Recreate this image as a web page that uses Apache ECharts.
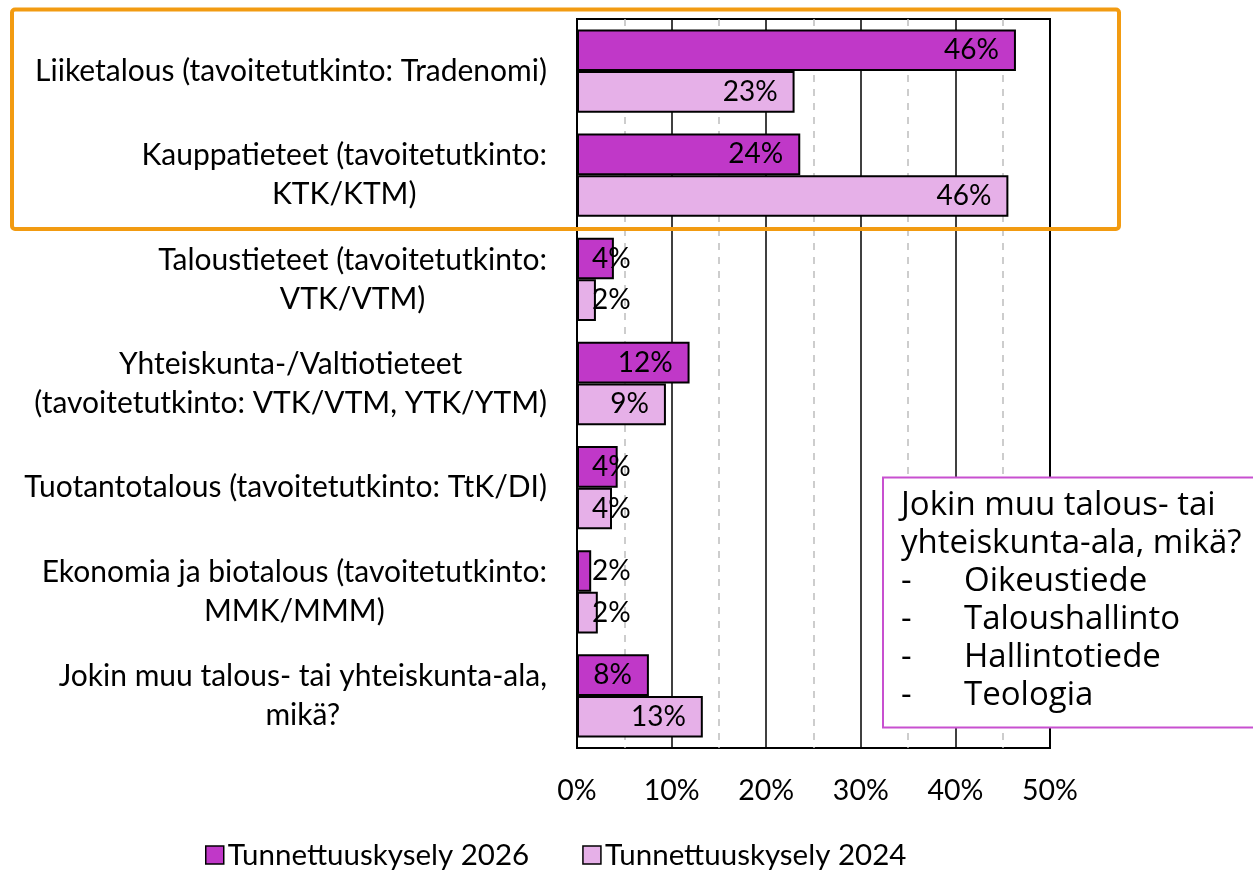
<!DOCTYPE html>
<html>
<head>
<meta charset="utf-8">
<title>Tunnettuuskysely</title>
<script src="https://cdn.jsdelivr.net/npm/echarts@6/dist/echarts.min.js"></script>
<style>
  html, body { margin: 0; padding: 0; background: #fff; }
  #chart { width: 1253px; height: 873px; }
</style>
</head>
<body>
<div id="chart"></div>
<script>
// kategoriat (y-akseli)
const categories = [
  'Liiketalous (tavoitetutkinto: Tradenomi)',
  'Kauppatieteet (tavoitetutkinto:\nKTK/KTM)',
  'Taloustieteet (tavoitetutkinto:\nVTK/VTM)',
  'Yhteiskunta-/Valtiotieteet\n(tavoitetutkinto: VTK/VTM, YTK/YTM)',
  'Tuotantotalous (tavoitetutkinto: TtK/DI)',
  'Ekonomia ja biotalous (tavoitetutkinto:\nMMK/MMM)',
  'Jokin muu talous- tai yhteiskunta-ala,\nmikä?'
];
const seriesNames = ['Tunnettuuskysely 2026', 'Tunnettuuskysely 2024'];
// arvot luettu kuvasta (%)
const values2026 = [46.4, 23.6, 3.9, 11.9, 4.3, 1.5, 7.6];
const values2024 = [23.0, 45.6, 2.0, 9.4, 3.7, 2.2, 13.3];
const xTicks = [0, 10, 20, 30, 40, 50];
// tekstilaatikon rivit
const noteTitle = ['Jokin muu talous- tai', 'yhteiskunta-ala, mikä?'];
const noteItems = ['Oikeustiede', 'Taloushallinto', 'Hallintotiede', 'Teologia'];

const FONT = 'Lato';
const NOTE_FONT = '33px "Open Sans"';
const colors = ['#C038C8', '#E6B0E8'];

// pienet palkit: Excel siirtää tunnisteen palkin alkuun
function barData (vals) {
  return vals.map(v => {
    if (v < 5) {
      return { value: v, label: { position: [15, '50%'], align: 'left', verticalAlign: 'middle' } };
    }
    return { value: v };
  });
}

function makeSeries (name, vals, color) {
  return {
    name: name,
    type: 'bar',
    data: barData(vals),
    barGap: '0%',
    barCategoryGap: '20%',
    itemStyle: { color: color, borderColor: '#000', borderWidth: 2 },
    label: {
      show: true,
      position: 'insideRight',
      distance: 17,
      color: '#000',
      fontFamily: FONT,
      fontSize: 28,
      formatter: p => Math.round(p.value) + '%'
    }
  };
}

const noteText = noteTitle.map(t => '{t|' + t + '}').join('\n') + '\n' +
  noteItems.map(t => '{d|-}{t|' + t + '}').join('\n');

const option = {
  animation: false,
  backgroundColor: '#fff',
  grid: {
    left: 577, top: 19, width: 473, height: 729,
    show: true, borderColor: '#000', borderWidth: 2
  },
  legend: {
    data: seriesNames,
    left: 200, top: 835,
    itemWidth: 18, itemHeight: 18, itemGap: 53,
    icon: 'rect',
    itemStyle: { borderColor: '#000', borderWidth: 1.5 },
    textStyle: { fontFamily: FONT, fontSize: 29.5, color: '#000', padding: [0, 0, 0, -1] }
  },
  xAxis: {
    type: 'value',
    min: xTicks[0], max: xTicks[xTicks.length - 1], interval: 10,
    axisLine: { show: false },
    axisTick: { show: false },
    axisLabel: { formatter: '{value}%', fontFamily: FONT, fontSize: 28.5, color: '#000', margin: 28 },
    splitLine: { show: true, lineStyle: { color: '#000', width: 1.5 } },
    minorTick: { show: false, splitNumber: 2 },
    minorSplitLine: { show: true, lineStyle: { color: '#bdbdbd', width: 1.5, type: [7, 7] } }
  },
  yAxis: {
    type: 'category',
    inverse: true,
    data: categories,
    axisLine: { show: true, lineStyle: { color: '#000', width: 2 } },
    axisTick: { show: false },
    axisLabel: {
      margin: 30,
      formatter: v => v.split('\n').map(l => '{c|' + l + '}').join('\n'),
      rich: {
        c: { align: 'center', fontFamily: FONT, fontSize: 30, lineHeight: 39, color: '#000' }
      }
    }
  },
  series: [
    makeSeries(seriesNames[0], values2026, colors[0]),
    makeSeries(seriesNames[1], values2024, colors[1])
  ],
  graphic: [
    {
      type: 'rect',
      shape: { x: 12, y: 9.5, width: 1107, height: 219.5, r: 3 },
      style: { fill: 'none', stroke: '#F29B11', lineWidth: 4 },
      z: 100
    },
    {
      type: 'rect',
      shape: { x: 883, y: 477.5, width: 380, height: 250 },
      style: { fill: '#fff', stroke: '#C850D0', lineWidth: 2 },
      z: 100
    },
    {
      type: 'text',
      x: 901, y: 487,
      style: {
        text: noteText,
        font: NOTE_FONT,
        lineHeight: 38,
        fill: '#000',
        verticalAlign: 'top',
        rich: {
          d: { width: 63, font: NOTE_FONT, lineHeight: 38 },
          t: { font: NOTE_FONT, lineHeight: 38 }
        }
      },
      z: 101
    }
  ]
};

const myChart = echarts.init(document.getElementById('chart'));
myChart.setOption(option);
</script>
</body>
</html>
